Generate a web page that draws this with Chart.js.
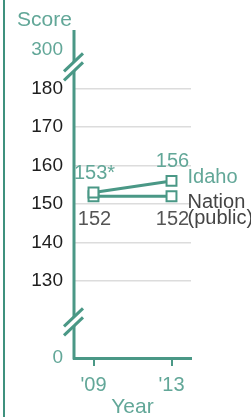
<!DOCTYPE html>
<html>
<head>
<meta charset="utf-8">
<script src="https://cdn.jsdelivr.net/npm/chart.js@4.4.1/dist/chart.umd.min.js"></script>
<style>
  html, body { margin: 0; padding: 0; background: #fff; }
  #box { position: relative; width: 251px; height: 417px; }
  #frame { position: absolute; left: 3px; top: 0; width: 2px; height: 417px; background: #3f917e; }
</style>
</head>
<body>
<div id="box">
  <div id="frame"></div>
  <canvas id="myChart" width="251" height="417"></canvas>
</div>
<script>
// ---> values <---
const years = [2009, 2013];
const yearLabels = ["'09", "'13"];
const idaho = [153, 156];
const nation = [152, 152];
const idahoNotes = ["153*", "156"];
const nationNotes = ["152", "152"];
const yTicks = [130, 140, 150, 160, 170, 180];
// broken axis: its two ends stand for 0 and 300
const axisLow = 110, axisHigh = 190;
const breakLabels = { 110: "0", 190: "300" };

// ---> look <---
const teal = '#4a9886';
const tealText = '#62a798';
const font = "'Liberation Sans', Arial, sans-serif";

// axis line above the plot, the break marks and the "Score" label
const brokenAxis = {
  id: 'brokenAxis',
  afterDraw(chart) {
    const { ctx, chartArea: a, scales: { y } } = chart;
    ctx.save();
    ctx.strokeStyle = teal;
    ctx.lineWidth = 3;
    ctx.beginPath();
    ctx.moveTo(a.left, a.top - 20);
    ctx.lineTo(a.left, a.bottom + 1.5);
    ctx.stroke();

    for (const v of [185.6, 119.4]) {
      const cy = y.getPixelForValue(v);
      const cx = a.left;
      // white gap
      ctx.strokeStyle = '#fff';
      ctx.lineWidth = 6;
      ctx.beginPath();
      ctx.moveTo(cx - 7, cy + 7);
      ctx.lineTo(cx + 7, cy - 7);
      ctx.stroke();
      ctx.strokeStyle = teal;
      ctx.lineWidth = 3;
      for (const off of [-4.5, 4.5]) {
        ctx.beginPath();
        ctx.moveTo(cx - 10, cy + 9 + off);
        ctx.lineTo(cx + 9, cy - 9 + off);
        ctx.stroke();
      }
    }

    ctx.fillStyle = tealText;
    ctx.font = '21px ' + font;
    ctx.textAlign = 'left';
    ctx.textBaseline = 'middle';
    ctx.fillText('Score', 17, 20);
    ctx.restore();
  }
};

// value labels next to the points and the series names
const pointNotes = {
  id: 'pointNotes',
  afterDatasetsDraw(chart) {
    const { ctx } = chart;
    const ida = chart.getDatasetMeta(0).data;
    const nat = chart.getDatasetMeta(1).data;
    ctx.save();
    ctx.font = '20px ' + font;
    ctx.textBaseline = 'middle';
    ctx.textAlign = 'center';
    ida.forEach((p, i) => {
      ctx.fillStyle = tealText;
      ctx.fillText(idahoNotes[i], p.x + 1, p.y - 19);
    });
    nat.forEach((p, i) => {
      ctx.fillStyle = '#555';
      ctx.fillText(nationNotes[i], p.x + 1, p.y + 23);
    });
    const last = ida.length - 1;
    ctx.textAlign = 'left';
    ctx.fillStyle = tealText;
    ctx.fillText('Idaho', ida[last].x + 16, ida[last].y - 3);
    ctx.fillStyle = '#444';
    ctx.fillText('Nation', nat[last].x + 16, nat[last].y + 6);
    ctx.fillText('(public)', nat[last].x + 16, nat[last].y + 22);
    ctx.restore();
  }
};

const lineStyle = {
  borderColor: teal,
  borderWidth: 3,
  pointStyle: 'rect',
  pointRadius: 7,
  pointBorderWidth: 2,
  pointBorderColor: teal,
  pointBackgroundColor: '#fff',
  tension: 0
};

new Chart(document.getElementById('myChart'), {
  type: 'line',
  data: {
    datasets: [
      { label: 'Idaho', data: years.map((x, i) => ({ x, y: idaho[i] })), ...lineStyle },
      { label: 'Nation (public)', data: years.map((x, i) => ({ x, y: nation[i] })), ...lineStyle }
    ]
  },
  options: {
    responsive: false,
    animation: false,
    layout: { padding: { left: 0, top: 50, right: 60, bottom: 0 } },
    plugins: { legend: { display: false }, tooltip: { enabled: false } },
    scales: {
      x: {
        type: 'linear',
        min: 2008,
        max: 2014,
        afterBuildTicks: s => { s.ticks = years.map(v => ({ value: v })); },
        afterFit: s => { s.height = 59; },
        border: { display: true, color: teal, width: 3 },
        grid: { drawOnChartArea: false, drawTicks: true, tickLength: 8, tickColor: teal, lineWidth: 2, color: teal },
        ticks: {
          padding: 7,
          color: tealText,
          font: { family: font, size: 20 },
          callback: v => yearLabels[years.indexOf(v)]
        },
        title: {
          display: true,
          text: 'Year',
          color: tealText,
          font: { family: font, size: 21 },
          padding: { top: 0, bottom: -3 }
        }
      },
      y: {
        min: axisLow,
        max: axisHigh,
        afterBuildTicks: s => {
          s.ticks = [axisLow, ...yTicks, axisHigh].map(v => ({ value: v }));
        },
        afterFit: s => { s.width = 74; },
        border: { display: false },
        grid: {
          drawTicks: false,
          lineWidth: 1.5,
          color: c => (c.tick && yTicks.includes(c.tick.value)) ? '#dcdcdc' : 'rgba(0,0,0,0)'
        },
        ticks: {
          padding: 11,
          font: { family: font, size: 19 },
          color: c => (c.tick && breakLabels[c.tick.value] !== undefined) ? tealText : '#1e1e1e',
          callback: v => breakLabels[v] !== undefined ? breakLabels[v] : String(v)
        }
      }
    }
  },
  plugins: [brokenAxis, pointNotes]
});
</script>
</body>
</html>
